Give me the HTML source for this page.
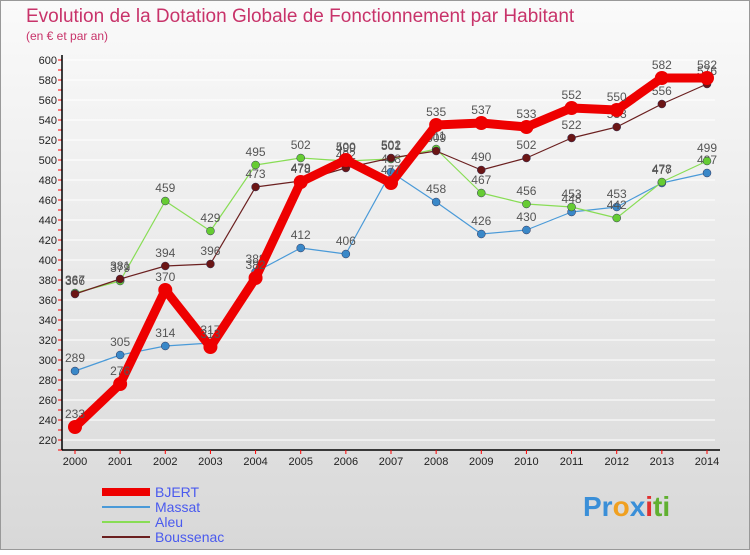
<!DOCTYPE html>
<html><head><meta charset="utf-8"><style>
body{margin:0;width:750px;height:550px;overflow:hidden;font-family:"Liberation Sans",sans-serif}
</style></head><body>
<svg id="c" width="750" height="550" xmlns="http://www.w3.org/2000/svg">
<defs><linearGradient id="bg" x1="0" y1="0" x2="0" y2="1"><stop offset="0" stop-color="#fafafa"/><stop offset="1" stop-color="#d8d8d8"/></linearGradient></defs>
<rect x="0.5" y="0.5" width="749" height="549" fill="url(#bg)" stroke="#999"/>
<text x="26" y="22" font-size="19" fill="#c8336a">Evolution de la Dotation Globale de Fonctionnement par Habitant</text>
<text x="26" y="40" font-size="12" fill="#c8336a">(en € et par an)</text>
<g id="grid"></g><g id="axes"></g><g id="series"></g><g id="legend"></g>
<text x="583" y="516" font-size="28" font-weight="bold"><tspan fill="#3a8fd8">Pr</tspan><tspan fill="#f0a020">o</tspan><tspan fill="#3a8fd8">x</tspan><tspan fill="#e03030">i</tspan><tspan fill="#60b030">ti</tspan></text>
</svg>
<script>
const years=[2000,2001,2002,2003,2004,2005,2006,2007,2008,2009,2010,2011,2012,2013,2014];
const yTicks=[220,240,260,280,300,320,340,360,380,400,420,440,460,480,500,520,540,560,580,600];
const bjert=[233,276,370,313,382,478,500,477,535,537,533,552,550,582,582];
const massat=[289,305,314,317,388,412,406,488,458,426,430,448,453,477,487];
const aleu=[367,379,459,429,495,502,499,501,511,467,456,453,442,478,499];
const boussenac=[366,381,394,396,473,479,492,502,509,490,502,522,533,556,576];
const NS="http://www.w3.org/2000/svg";
const X=i=>75+i*(707-75)/14, Y=v=>60+(600-v);
function mk(t,a,p){const e=document.createElementNS(NS,t);for(const k in a)e.setAttribute(k,a[k]);p.appendChild(e);return e;}
const grid=document.getElementById('grid'),axes=document.getElementById('axes'),ser=document.getElementById('series'),leg=document.getElementById('legend');
yTicks.forEach(v=>{
 const g=mk('line',{x1:62,x2:715,y1:Y(v),y2:Y(v),stroke:'#fff','stroke-width':1},grid);
 
 const t=mk('text',{x:57,y:Y(v)+4,'font-size':11,'text-anchor':'end',fill:'#222'},axes);t.textContent=v;
 
 mk('line',{x1:58,x2:62,y1:Y(v),y2:Y(v),stroke:'#f00'},axes);
 mk('line',{x1:58,x2:62,y1:Y(v)+10,y2:Y(v)+10,stroke:'#f00'},axes);
});
const ya=mk('line',{x1:62,x2:62,y1:55,y2:450,stroke:'#000','stroke-width':1.5},axes);

const xa=mk('line',{x1:62,x2:720,y1:450,y2:450,stroke:'#000','stroke-width':1.5},axes);

years.forEach((y,i)=>{const t=mk('text',{x:X(i),y:465,'font-size':11,'text-anchor':'middle',fill:'#222'},axes);t.textContent=y;
 
 mk('line',{x1:X(i),x2:X(i),y1:450,y2:454,stroke:'#f00'},axes);});
const S=[["massat",massat,"#4a9ad8",1.2,4,"#3a88c8"],["aleu",aleu,"#88dd55",1.2,4,"#66cc33"],["boussenac",boussenac,"#6b2020",1.2,4,"#6b1515"],["bjert",bjert,"#ee0000",9,7,"#ee0000"]];
S.forEach(([n,d,c,w,r,fc])=>{
 const g=mk('g',{},ser);
 const l=mk('polyline',{points:d.map((v,i)=>X(i)+','+Y(v)).join(' '),fill:'none',stroke:c,'stroke-width':w,'stroke-linejoin':'round'},g);
 
 d.forEach((v,i)=>{const p=mk('circle',{cx:X(i),cy:Y(v),r:r,fill:fc,stroke:n=='bjert'?'none':'#335','stroke-width':0.5},g);
  
  const t=mk('text',{x:X(i),y:Y(v)-9,'font-size':12,'text-anchor':'middle',fill:'#555'},g);t.textContent=v;
  });
});
const L=[["BJERT","#ee0000",8],["Massat","#4a9ad8",2],["Aleu","#88dd55",2],["Boussenac","#6b2020",2]];
L.forEach(([n,c,w],i)=>{const y=492+i*15;
 const g=mk('g',{},leg);
 mk('line',{x1:102,x2:150,y1:y,y2:y,stroke:c,'stroke-width':w},g);
 const t=mk('text',{x:155,y:y+5,'font-size':14,fill:'#4a5aee'},g);t.textContent=n;});
</script>
</body></html>
